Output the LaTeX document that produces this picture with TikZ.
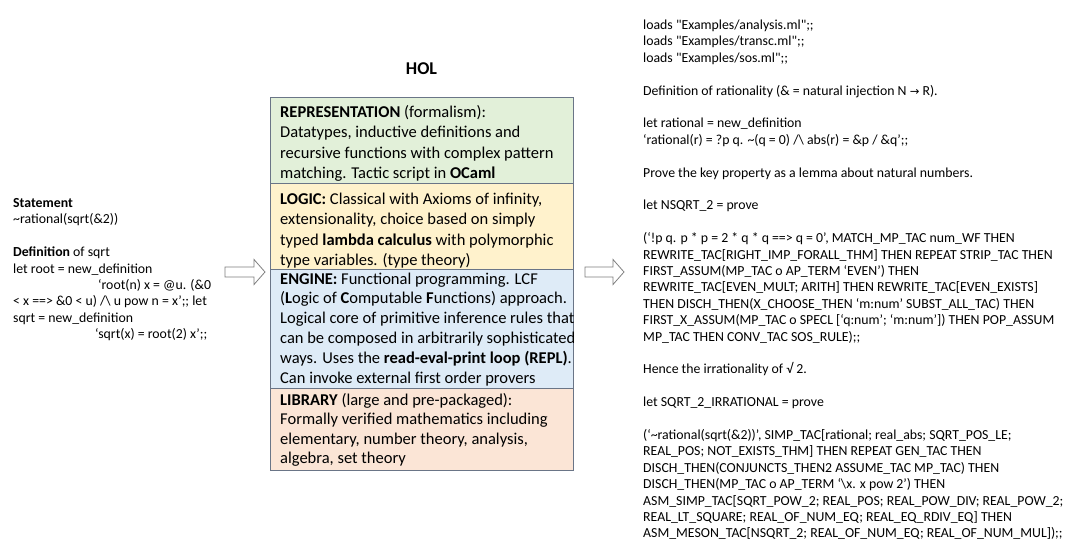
\documentclass[tikz,border=0pt]{standalone}
\usepackage{fontspec}
\setmainfont{Carlito}
\newfontfamily\dejavu{DejaVu Sans}
\definecolor{repfill}{HTML}{E2F0D9}
\definecolor{logfill}{HTML}{FFF2CC}
\definecolor{engfill}{HTML}{DEEBF7}
\definecolor{libfill}{HTML}{FBE5D6}
\definecolor{boxline}{HTML}{6A7587}
\definecolor{arrline}{HTML}{7F7F7F}
\begin{document}
\begin{tikzpicture}[x=1pt,y=-1pt,
  layer/.style={draw=boxline, line width=0.9pt, minimum width=303pt, inner sep=0pt, anchor=north west},
  boxtext/.style={anchor=base west, inner sep=0pt, align=left, font=\fontsize{16.5}{20.4}\selectfont},
  sidetext/.style={anchor=base west, inner sep=0pt, align=left, font=\fontsize{13.8}{16.4}\selectfont},
  blockarrow/.style={draw=arrline, line width=0.8pt, fill=white}]
\useasboundingbox (0,0) rectangle (1080,556);
\fill[white] (0,0) rectangle (1080,556);

% title
\node[anchor=center, inner sep=0pt, font=\fontsize{18}{20}\selectfont\bfseries] (title) at (421.5,69) {HOL};

% layers
\node[layer, fill=repfill, minimum height=85.5pt] (rep) at (270,97.5) {};
\node[layer, fill=logfill, minimum height=86pt] (log) at (270,183) {};
\node[layer, fill=engfill, minimum height=119pt] (eng) at (270,269) {};
\node[layer, fill=libfill, minimum height=81.5pt] (lib) at (270,388) {};

% (anchors are at the baseline of the last line)
\node[boxtext] (reptext) at (280,178.7) {\textbf{REPRESENTATION} (formalism):\\
Datatypes, inductive definitions and\\
recursive functions with complex pattern\\
matching. Tactic script in \textbf{OCaml}};

\node[boxtext] (logtext) at (280,265.7) {\textbf{LOGIC:} Classical with Axioms of infinity,\\
extensionality, choice based on simply\\
typed \textbf{lambda calculus} with polymorphic\\
type variables. (type theory)};

\node[boxtext, font=\fontsize{16.5}{19.8}\selectfont] (engtext) at (280,383) {\textbf{ENGINE:} Functional programming. LCF\\
(\textbf{L}ogic of \textbf{C}omputable \textbf{F}unctions) approach.\\
Logical core of primitive inference rules that\\
can be composed in arbitrarily sophisticated\\
ways. Uses the \textbf{read-eval-print loop (REPL)}.\\
Can invoke external first order provers};

\node[boxtext, font=\fontsize{16.5}{19.5}\selectfont] (libtext) at (280,463.5) {\textbf{LIBRARY} (large and pre-packaged):\\
Formally verified mathematics including\\
elementary, number theory, analysis,\\
algebra, set theory};

% left text
\node[sidetext] (stmt) at (13,338.7) {\textbf{Statement}\\
\textasciitilde rational(sqrt(\&2))\\[16.4pt]
\textbf{Definition} of sqrt\\
let root = new\_definition\\
\hspace*{85pt}‘root(n) x = @u. (\&0\\
< x ==> \&0 < u) /\textbackslash\ u pow n = x’;; let\\
sqrt = new\_definition\\
\hspace*{82pt}‘sqrt(x) = root(2) x’;;};

% right text
\node[sidetext] (code) at (643,537.9) {loads \textquotedbl Examples/analysis.ml\textquotedbl;;\\
loads \textquotedbl Examples/transc.ml\textquotedbl;;\\
loads \textquotedbl Examples/sos.ml\textquotedbl;;\\[16.4pt]
Definition of rationality (\& = natural injection N {\dejavu\fontsize{11.5}{16.4}\selectfont →} R).\\[16.4pt]
let rational = new\_definition\\
‘rational(r) = ?p q. \textasciitilde(q = 0) /\textbackslash\ abs(r) = \&p / \&q’;;\\[16.4pt]
Prove the key property as a lemma about natural numbers.\\[16.4pt]
let NSQRT\_2 = prove\\[16.4pt]
(‘!p q. p * p = 2 * q * q ==> q = 0’, MATCH\_MP\_TAC num\_WF THEN\\
REWRITE\_TAC[RIGHT\_IMP\_FORALL\_THM] THEN REPEAT STRIP\_TAC THEN\\
FIRST\_ASSUM(MP\_TAC o AP\_TERM ‘EVEN’) THEN\\
REWRITE\_TAC[EVEN\_MULT; ARITH] THEN REWRITE\_TAC[EVEN\_EXISTS]\\
THEN DISCH\_THEN(X\_CHOOSE\_THEN ‘m:num’ SUBST\_ALL\_TAC) THEN\\
FIRST\_X\_ASSUM(MP\_TAC o SPECL [‘q:num’; ‘m:num’]) THEN POP\_ASSUM\\
MP\_TAC THEN CONV\_TAC SOS\_RULE);;\\[16.4pt]
Hence the irrationality of √ 2.\\[16.4pt]
let SQRT\_2\_IRRATIONAL = prove\\[16.4pt]
(‘\textasciitilde rational(sqrt(\&2))’, SIMP\_TAC[rational; real\_abs; SQRT\_POS\_LE;\\
REAL\_POS; NOT\_EXISTS\_THM] THEN REPEAT GEN\_TAC THEN\\
DISCH\_THEN(CONJUNCTS\_THEN2 ASSUME\_TAC MP\_TAC) THEN\\
DISCH\_THEN(MP\_TAC o AP\_TERM ‘\textbackslash x. x pow 2’) THEN\\
ASM\_SIMP\_TAC[SQRT\_POW\_2; REAL\_POS; REAL\_POW\_DIV; REAL\_POW\_2;\\
REAL\_LT\_SQUARE; REAL\_OF\_NUM\_EQ; REAL\_EQ\_RDIV\_EQ] THEN\\
ASM\_MESON\_TAC[NSQRT\_2; REAL\_OF\_NUM\_EQ; REAL\_OF\_NUM\_MUL]);;};

% block arrows
\draw[blockarrow] (225,267) -- (254,267) -- (254,259.5) -- (265,272) -- (254,284.5) -- (254,277) -- (225,277) -- cycle;
\draw[blockarrow] (585,267) -- (613,267) -- (613,259.5) -- (624,272) -- (613,284.5) -- (613,277) -- (585,277) -- cycle;
\end{tikzpicture}
\end{document}
